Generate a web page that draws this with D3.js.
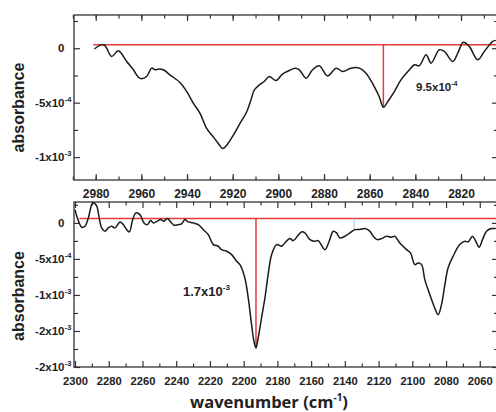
<!DOCTYPE html>
<html>
<head>
<meta charset="utf-8">
<script src="https://cdnjs.cloudflare.com/ajax/libs/d3/7.8.5/d3.min.js"></script>
<style>
body { margin: 0; background: #fff; }
svg { display: block; }
.frame { fill: none; stroke: #333; stroke-width: 1.3; }
.axis path { display: none; }
.axis line { stroke: #333; stroke-width: 1.2; }
.tl { font-family: "Liberation Sans", Arial, sans-serif; font-weight: bold; fill: #222; }
.trace { fill: none; stroke: #1a1a1a; stroke-width: 1.5; }
.ref { fill: none; stroke: #e8393a; stroke-width: 1.5; }
</style>
</head>
<body>
<script>
var width = 496;
var height = 412;

// absorbance values in units of 1e-4
var topWavenumber = [2980.6, 2976.4, 2973.0, 2970.1, 2966.4, 2963.5, 2961.3, 2959.9, 2957.7, 2955.5,
    2954.0, 2952.6, 2950.4, 2947.5, 2943.1, 2940.1, 2937.2, 2934.3, 2931.4, 2928.5,
    2926.3, 2924.4, 2922.6, 2919.7, 2916.8, 2914.0, 2912.0, 2910.5, 2908.3, 2906.2,
    2904.0, 2901.0, 2898.1, 2895.2, 2892.6, 2890.8, 2887.9, 2885.0, 2882.1, 2878.4,
    2874.7, 2871.8, 2868.2, 2864.5, 2861.6, 2858.0, 2855.8, 2854.0, 2852.1, 2849.2,
    2846.3, 2842.6, 2840.4, 2838.3, 2835.3, 2833.1, 2829.5, 2827.3, 2823.6, 2821.4,
    2819.0, 2816.4, 2812.7, 2809.8, 2806.1, 2804.7];
var topAbsorbance = [-0.07, 0.32, -0.76, -0.23, -1.22, -1.98, -2.66, -2.81, -2.60, -1.83,
    -1.98, -1.92, -1.98, -2.44, -3.15, -3.99, -5.06, -5.98, -7.36, -8.14,
    -8.75, -9.21, -8.90, -7.98, -6.90, -5.90, -4.75, -3.83, -3.37, -3.06,
    -2.60, -2.97, -2.35, -2.05, -1.83, -1.98, -2.75, -1.98, -1.61, -2.54,
    -1.83, -2.14, -1.83, -1.83, -2.29, -3.52, -4.45, -5.42, -4.91, -3.99,
    -2.91, -1.98, -1.52, -1.61, -0.60, -1.37, -0.14, -0.30, -1.22, -0.44,
    0.54, 0.17, -1.06, -0.30, 0.63, 0.72];

var bottomWavenumber = [2300.0, 2298.6, 2296.0, 2294.1, 2292.1, 2290.1, 2289.2, 2287.1, 2286.2, 2284.2,
    2282.2, 2280.3, 2278.3, 2276.3, 2273.3, 2271.4, 2269.4, 2267.8, 2265.8, 2263.9,
    2261.5, 2259.1, 2257.2, 2255.1, 2253.6, 2251.2, 2249.2, 2247.3, 2245.3, 2243.3,
    2241.3, 2238.8, 2236.8, 2234.8, 2232.9, 2229.9, 2226.9, 2224.0, 2221.0, 2218.0,
    2215.1, 2213.1, 2210.1, 2207.1, 2204.2, 2202.2, 2199.3, 2197.3, 2195.3, 2193.9,
    2192.7, 2191.4, 2189.4, 2187.4, 2185.5, 2183.4, 2180.5, 2177.5, 2175.6, 2172.6,
    2170.6, 2167.7, 2165.7, 2163.7, 2160.7, 2157.8, 2155.8, 2151.9, 2149.3, 2146.9,
    2144.9, 2143.0, 2140.0, 2137.0, 2134.1, 2131.1, 2128.1, 2125.2, 2123.2, 2120.9,
    2118.3, 2115.3, 2112.3, 2110.4, 2107.4, 2103.4, 2101.1, 2098.5, 2096.6, 2094.5,
    2092.6, 2089.6, 2086.7, 2084.7, 2082.7, 2080.7, 2078.8, 2075.8, 2071.9, 2068.9,
    2066.9, 2064.3, 2062.4, 2060.4, 2058.4, 2056.0, 2053.1, 2050.5];
var bottomAbsorbance = [1.85, 0.69, -0.60, -0.46, 0.69, 2.54, 2.78, 2.32, 1.39, -0.69,
    -1.15, -0.69, -0.46, -0.69, 0.14, -0.24, -0.93, -1.25, 0.46, 1.39,
    1.15, 0.00, -0.24, 0.32, 0.00, 0.24, 0.46, 0.24, 0.60, 0.14,
    -0.32, -0.24, -0.14, 0.46, 0.14, 0.00, -0.24, -0.93, -1.63, -3.01,
    -3.24, -3.71, -3.93, -4.40, -5.32, -5.80, -7.64, -10.42, -14.13, -16.43,
    -17.36, -15.97, -13.19, -10.42, -7.18, -4.40, -3.01, -3.24, -2.78, -2.18,
    -2.46, -1.71, -1.25, -1.39, -2.32, -2.54, -2.46, -3.71, -2.54, -1.15,
    -1.39, -2.08, -1.85, -1.39, -0.93, -0.93, -0.79, -1.15, -1.85, -2.32,
    -2.18, -1.85, -1.99, -1.85, -2.78, -3.71, -4.17, -5.79, -5.56, -5.79,
    -7.88, -9.96, -11.81, -12.74, -11.35, -8.57, -6.25, -4.63, -3.01, -2.54,
    -2.64, -1.85, -2.54, -3.38, -2.32, -1.15, -0.79, -0.79];

var topXTicks = [2980, 2960, 2940, 2920, 2900, 2880, 2860, 2840, 2820];
var bottomXTicks = [2300, 2280, 2260, 2240, 2220, 2200, 2180, 2160, 2140, 2120, 2100, 2080, 2060];
var topYTicks = [0, -5, -10];
var topYLabels = [["0", ""], ["-5x10", "-4"], ["-1x10", "-3"]];
var bottomYTicks = [0, -5, -10, -15, -20];
var bottomYLabels = [["0", ""], ["-5x10", "-4"], ["-1x10", "-3"], ["-2x10", "-3"], ["-2x10", "-3"]];

var baselineLevel = [0.32, 0.6];
var baselineStart = [2981.0, 2297.4];
var peakWavenumber = [2854.0, 2192.7];
var peakAbsorbance = [-5.42, -17.36];
var peakLabels = [["9.5x10", "-4"], ["1.7x10", "-3"]];
var peakLabelAt = [[2839.7, -3.9], [2236.0, -10.15]];
var markerWavenumber = 2134.5;

var svg = d3.select("body").append("svg")
    .attr("width", width)
    .attr("height", height);

var panels = [
    {
        x: d3.scaleLinear().domain([2989.5, 2803.8]).range([74, 498]),
        y: d3.scaleLinear().domain([-12.1, 3.05]).range([180, 15]),
        wn: topWavenumber, ab: topAbsorbance,
        xTicks: topXTicks, xMinor: d3.range(2990, 2800, -10),
        yTicks: topYTicks, yLabels: topYLabels, yMinor: [2.5, -2.5, -7.5],
        xFont: 12, xPad: 9, labelFont: 11.5, titleY: 107.5
    },
    {
        x: d3.scaleLinear().domain([2300.6, 2049.2]).range([74, 498]),
        y: d3.scaleLinear().domain([-20, 2.9]).range([367, 202]),
        wn: bottomWavenumber, ab: bottomAbsorbance,
        xTicks: bottomXTicks, xMinor: d3.range(2290, 2050, -20),
        yTicks: bottomYTicks, yLabels: bottomYLabels, yMinor: [2.5, -2.5, -7.5, -12.5, -17.5],
        xFont: 11.2, xPad: 10, labelFont: 13, titleY: 296
    }
];

function tickAxis(axisFn, scale, values, size) {
    return axisFn(scale).tickValues(values).tickSizeInner(-size).tickSizeOuter(0).tickFormat("");
}

panels.forEach(function(p, i) {
    var x0 = p.x.range()[0], x1 = p.x.range()[1];
    var y0 = p.y.range()[1], y1 = p.y.range()[0];
    var g = svg.append("g");

    g.append("clipPath").attr("id", "clip" + i)
        .append("rect").attr("x", x0).attr("y", y0).attr("width", x1 - x0).attr("height", y1 - y0);

    // ticks on all four sides, pointing inward
    g.append("g").attr("class", "axis").attr("transform", `translate(0,${y1})`)
        .call(tickAxis(d3.axisBottom, p.x, p.xMinor, 3.5));
    g.append("g").attr("class", "axis").attr("transform", `translate(0,${y0})`)
        .call(tickAxis(d3.axisTop, p.x, p.xMinor, 3.5));
    g.append("g").attr("class", "axis").attr("transform", `translate(0,${y0})`)
        .call(tickAxis(d3.axisTop, p.x, p.xTicks, 6));
    g.append("g").attr("class", "axis").attr("transform", `translate(${x0},0)`)
        .call(tickAxis(d3.axisLeft, p.y, p.yMinor, 4));
    g.append("g").attr("class", "axis").attr("transform", `translate(${x0},0)`)
        .call(tickAxis(d3.axisLeft, p.y, p.yTicks, 6));
    g.append("g").attr("class", "axis").attr("transform", `translate(${x1},0)`)
        .call(tickAxis(d3.axisRight, p.y, p.yMinor, 4));
    g.append("g").attr("class", "axis").attr("transform", `translate(${x1},0)`)
        .call(tickAxis(d3.axisRight, p.y, p.yTicks, 6));

    var xb = g.append("g").attr("class", "axis").attr("transform", `translate(0,${y1})`)
        .call(d3.axisBottom(p.x).tickValues(p.xTicks).tickSizeInner(-6).tickSizeOuter(0)
            .tickPadding(p.xPad).tickFormat(d3.format("d")));
    xb.selectAll("text").attr("class", "tl").attr("font-size", p.xFont);

    // y tick labels with superscript exponents
    var yl = g.selectAll(".ylab").data(p.yTicks).enter().append("g")
        .attr("transform", d => `translate(64.5,${p.y(d) + 4})`);
    yl.append("text").attr("class", "tl").attr("font-size", 11.5)
        .attr("text-anchor", "end")
        .text((d, j) => p.yLabels[j][0]);
    yl.append("text").attr("class", "tl").attr("font-size", 7.5)
        .attr("x", 0.3).attr("y", -5)
        .text((d, j) => p.yLabels[j][1]);

    g.append("rect").attr("class", "frame")
        .attr("x", x0).attr("y", y0).attr("width", x1 - x0).attr("height", y1 - y0);

    var plot = g.append("g").attr("clip-path", `url(#clip${i})`);

    plot.append("line").attr("class", "ref")
        .attr("x1", p.x(baselineStart[i])).attr("x2", x1)
        .attr("y1", p.y(baselineLevel[i])).attr("y2", p.y(baselineLevel[i]));
    plot.append("line").attr("class", "ref")
        .attr("x1", p.x(peakWavenumber[i])).attr("x2", p.x(peakWavenumber[i]))
        .attr("y1", p.y(baselineLevel[i])).attr("y2", p.y(peakAbsorbance[i]));
    if (i === 1) {
        plot.append("line")
            .attr("stroke", "#a9cbe6").attr("stroke-width", 1.2)
            .attr("x1", p.x(markerWavenumber)).attr("x2", p.x(markerWavenumber))
            .attr("y1", p.y(baselineLevel[i])).attr("y2", p.y(-0.95));
    }

    var line = d3.line()
        .x(j => p.x(p.wn[j]))
        .y(j => p.y(p.ab[j]))
        .curve(d3.curveCatmullRom.alpha(0.5));
    plot.append("path").attr("class", "trace")
        .attr("d", line(d3.range(p.wn.length)));

    var ann = g.append("text").attr("class", "tl").attr("font-size", p.labelFont)
        .attr("x", p.x(peakLabelAt[i][0])).attr("y", p.y(peakLabelAt[i][1]));
    ann.append("tspan").text(peakLabels[i][0]);
    ann.append("tspan").attr("font-size", p.labelFont * 0.62).attr("dy", -p.labelFont * 0.45)
        .text(peakLabels[i][1]);

    svg.append("text").attr("class", "tl").attr("font-size", 16)
        .attr("text-anchor", "middle")
        .attr("transform", `translate(24,${p.titleY}) rotate(-90)`)
        .text("absorbance");
});

var title = svg.append("text")
    .attr("font-family", "'Open Sans', sans-serif").attr("font-weight", "bold")
    .attr("font-size", 16.5).attr("fill", "#222")
    .attr("text-anchor", "middle")
    .attr("x", 269).attr("y", 408);
title.append("tspan").text("wavenumber (cm");
title.append("tspan").attr("font-size", 10).attr("dy", -7).text("-1");
title.append("tspan").attr("dy", 7).text(")");
</script>
</body>
</html>
